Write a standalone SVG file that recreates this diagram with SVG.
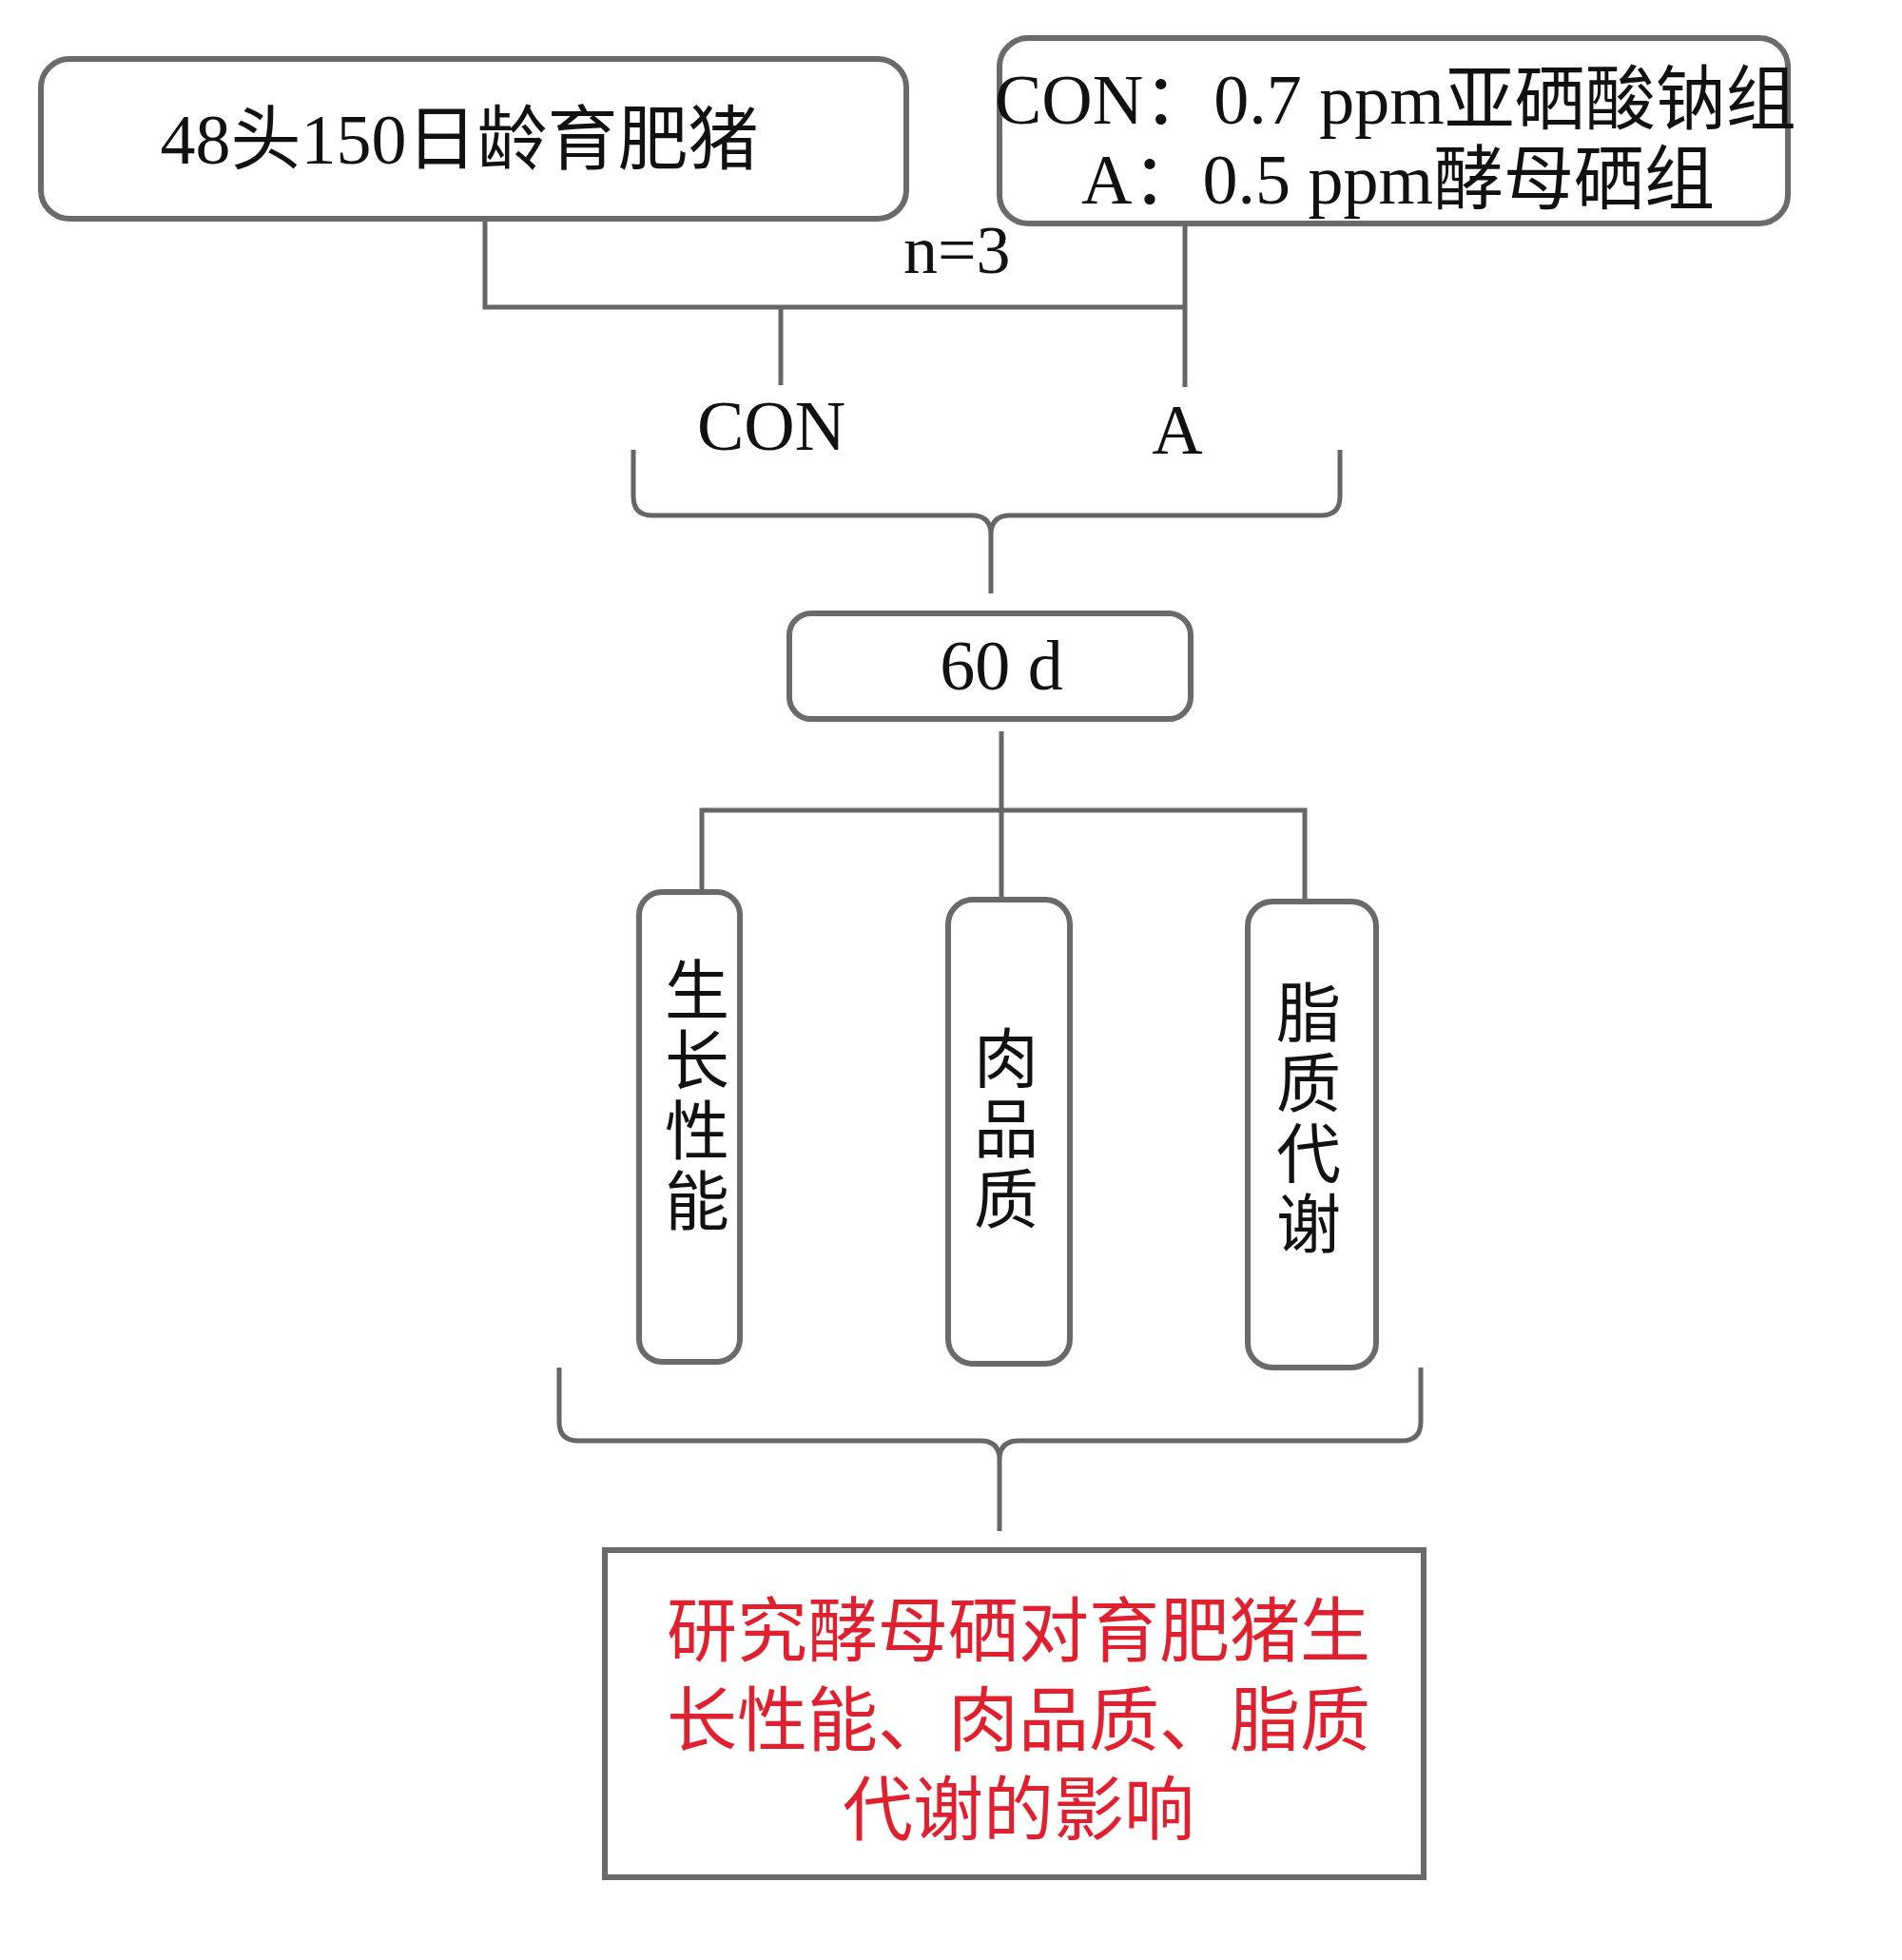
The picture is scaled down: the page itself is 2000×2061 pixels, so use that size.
<svg xmlns="http://www.w3.org/2000/svg" width="2000" height="2061" viewBox="0 0 2000 2061">
<style>
.box{fill:#ffffff;stroke:#6a6a6a;stroke-width:6}
.ln{fill:none;stroke:#666666;stroke-width:5}
.t{font-family:"Liberation Serif","Noto Sans CJK SC",serif;font-size:74px;fill:#111111}
.v{font-family:"Noto Sans CJK SC","Liberation Serif",sans-serif;font-size:68px;fill:#111111;writing-mode:vertical-rl;letter-spacing:6px}
.r{font-family:"Liberation Serif","Noto Sans CJK SC",serif;font-size:74px;fill:#e0202e;text-anchor:middle}
</style>
<rect width="2000" height="2061" fill="#ffffff"/>
<g id="connectors">
<path class="ln" d="M510 231 L510 323 L1246 323"/>
<path class="ln" d="M1246 237 L1246 407"/>
<path class="ln" d="M821 323 L821 405"/>
<path class="ln" d="M666 473 L666 522 Q666 542 686 542 L1022 542 Q1042 542 1042 562 L1042 624 M1409 473 L1409 522 Q1409 542 1389 542 L1062 542 Q1042 542 1042 562"/>
<path class="ln" d="M1053 769 L1053 946 M738 938 L738 852 L1372 852 L1372 948"/>
<path class="ln" d="M588 1438 L588 1495 Q588 1515 608 1515 L1031 1515 Q1051 1515 1051 1535 L1051 1610 M1494 1438 L1494 1495 Q1494 1515 1474 1515 L1071 1515 Q1051 1515 1051 1535"/>
</g>
<g id="n-pigs">
<rect class="box" x="43" y="62" width="910" height="168" rx="30"/>
<text class="t" x="483" y="172" text-anchor="middle">48头150日龄育肥猪</text>
</g>
<g id="n-groups">
<rect class="box" x="1051" y="40" width="829" height="195" rx="30"/>
<text class="t" x="1046" y="130">CON：0.7 ppm亚硒酸钠组</text>
<text class="t" x="1137" y="214">A：0.5 ppm酵母硒组</text>
</g>
<g id="n-n3">
<text class="t" x="950" y="287" style="font-size:72px">n=3</text>
</g>
<g id="n-con">
<text class="t" x="811" y="473" text-anchor="middle">CON</text>
</g>
<g id="n-a">
<text class="t" x="1238" y="477" text-anchor="middle">A</text>
</g>
<g id="n-60d">
<rect class="box" x="830" y="645" width="422" height="111" rx="23"/>
<text class="t" x="1053" y="725" text-anchor="middle">60 d</text>
</g>
<g id="n-growth">
<rect class="box" x="672" y="938" width="106" height="494" rx="24"/>
<text class="v" x="733" y="1006">生长性能</text>
</g>
<g id="n-meat">
<rect class="box" x="997" y="946" width="128" height="488" rx="26"/>
<text class="v" x="1058" y="1078">肉品质</text>
</g>
<g id="n-lipid">
<rect class="box" x="1312" y="948" width="135" height="490" rx="26"/>
<text class="v" x="1376" y="1030">脂质代谢</text>
</g>
<g id="n-result">
<rect class="box" x="636" y="1630" width="861" height="344"/>
<text class="r" x="1071" y="1741">研究酵母硒对育肥猪生</text>
<text class="r" x="1071" y="1835">长性能、肉品质、脂质</text>
<text class="r" x="1071" y="1929">代谢的影响</text>
</g>
</svg>
